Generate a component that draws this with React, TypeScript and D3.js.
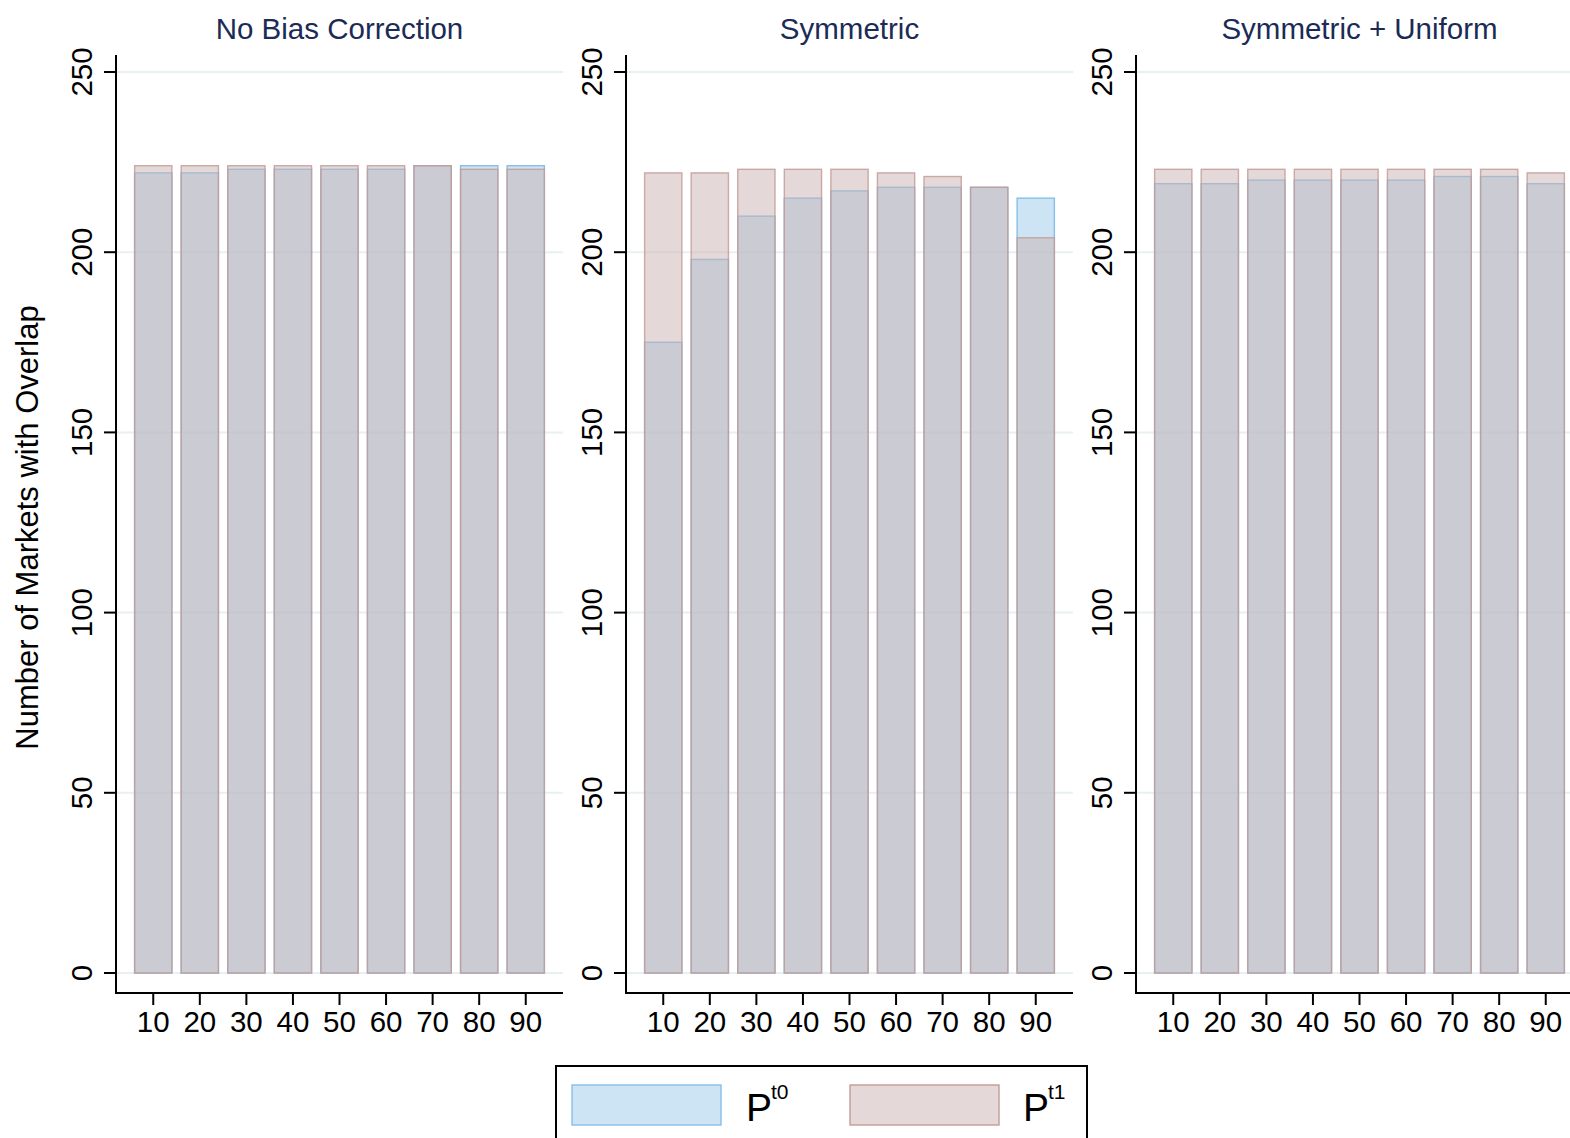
import React from "react";
import * as d3 from "d3";

const categories = [10, 20, 30, 40, 50, 60, 70, 80, 90];
const panelTitles = ["No Bias Correction", "Symmetric", "Symmetric + Uniform"];
const noBiasT0 = [222, 222, 223, 223, 223, 223, 224, 224, 224];
const noBiasT1 = [224, 224, 224, 224, 224, 224, 224, 223, 223];
const symmetricT0 = [175, 198, 210, 215, 217, 218, 218, 218, 215];
const symmetricT1 = [222, 222, 223, 223, 223, 222, 221, 218, 204];
const symUniformT0 = [219, 219, 220, 220, 220, 220, 221, 221, 219];
const symUniformT1 = [223, 223, 223, 223, 223, 223, 223, 223, 222];
const yTicks = [0, 50, 100, 150, 200, 250];
const yLabel = "Number of Markets with Overlap";

const seriesT0 = [noBiasT0, symmetricT0, symUniformT0];
const seriesT1 = [noBiasT1, symmetricT1, symUniformT1];

const W = 1570;
const H = 1138;
const FONT = "'Liberation Sans', Arial, sans-serif";
const panelLefts = [116, 626, 1136];
const panelWidth = 447;
const plotTop = 55;
const axisY = 993;

const C0_FILL = "rgb(155,201,233)";
const C0_STROKE = "#86bfe8";
const C1_FILL = "rgb(201,179,177)";
const C1_STROKE = "#c49c97";

const y = d3.scaleLinear().domain([0, 250]).range([973, 72]);

function Panel({ idx }: { idx: number }) {
  const left = panelLefts[idx];
  const x = d3
    .scaleBand<number>()
    .domain(categories)
    .range([left, left + panelWidth])
    .paddingInner(0.2)
    .paddingOuter(0.4);
  const bw = x.bandwidth();
  const t0 = seriesT0[idx];
  const t1 = seriesT1[idx];
  return (
    <g>
      {yTicks.map((t) => (
        <line key={"g" + t} x1={left} x2={left + panelWidth} y1={y(t)} y2={y(t)} stroke="#e9f0f1" strokeWidth={2} />
      ))}
      {categories.map((c, i) => (
        <rect
          key={"a" + c}
          x={x(c)}
          y={y(t0[i])}
          width={bw}
          height={y(0) - y(t0[i])}
          fill={C0_FILL}
          fillOpacity={0.5}
          stroke={C0_STROKE}
          strokeWidth={1.4}
        />
      ))}
      {categories.map((c, i) => (
        <rect
          key={"b" + c}
          x={x(c)}
          y={y(t1[i])}
          width={bw}
          height={y(0) - y(t1[i])}
          fill={C1_FILL}
          fillOpacity={0.5}
          stroke={C1_STROKE}
          strokeOpacity={0.85}
          strokeWidth={1.4}
        />
      ))}
      <line x1={left} x2={left} y1={plotTop} y2={axisY + 1} stroke="#000" strokeWidth={2} />
      <line x1={left - 1} x2={left + panelWidth} y1={axisY} y2={axisY} stroke="#000" strokeWidth={2} />
      {yTicks.map((t) => (
        <g key={"t" + t}>
          <line x1={left - 12} x2={left} y1={y(t)} y2={y(t)} stroke="#000" strokeWidth={2} />
          <text
            transform={`translate(${left - 24},${y(t)}) rotate(-90)`}
            textAnchor="middle"
            fontFamily={FONT}
            fontSize={29.5}
            fill="#000"
          >
            {t}
          </text>
        </g>
      ))}
      {categories.map((c) => {
        const cx = (x(c) as number) + bw / 2;
        return (
          <g key={"x" + c}>
            <line x1={cx} x2={cx} y1={axisY} y2={axisY + 12} stroke="#000" strokeWidth={2} />
            <text x={cx} y={1032} textAnchor="middle" fontFamily={FONT} fontSize={29.5} fill="#000">
              {c}
            </text>
          </g>
        );
      })}
      <text x={left + panelWidth / 2} y={39} textAnchor="middle" fontFamily={FONT} fontSize={29.5} fill="#1c2b56">
        {panelTitles[idx]}
      </text>
    </g>
  );
}

export default function App() {
  return (
    <svg
      width={W}
      height={H}
      viewBox={`0 0 ${W} ${H}`}
      style={{ position: "absolute", left: 0, top: 0, background: "#fff" }}
    >
      <rect x={0} y={0} width={W} height={H} fill="#fff" />
      {[0, 1, 2].map((i) => (
        <Panel key={i} idx={i} />
      ))}
      <text
        transform={`translate(38,${(y(0) + y(250)) / 2 + 5}) rotate(-90)`}
        textAnchor="middle"
        fontFamily={FONT}
        fontSize={31}
        fill="#000"
      >
        {yLabel}
      </text>
      <g>
        <rect x={556} y={1066} width={531} height={80} fill="#fff" stroke="#000" strokeWidth={2} />
        <rect x={572} y={1085} width={149} height={40} fill={C0_FILL} fillOpacity={0.5} stroke={C0_STROKE} strokeWidth={1.4} />
        <text x={746} y={1121} fontFamily={FONT} fontSize={39} fill="#000">
          P
        </text>
        <text x={771} y={1099} fontFamily={FONT} fontSize={21} fill="#000">
          t0
        </text>
        <rect x={850} y={1085} width={149} height={40} fill={C1_FILL} fillOpacity={0.5} stroke={C1_STROKE} strokeWidth={1.4} />
        <text x={1023} y={1121} fontFamily={FONT} fontSize={39} fill="#000">
          P
        </text>
        <text x={1048} y={1099} fontFamily={FONT} fontSize={21} fill="#000">
          t1
        </text>
      </g>
    </svg>
  );
}
